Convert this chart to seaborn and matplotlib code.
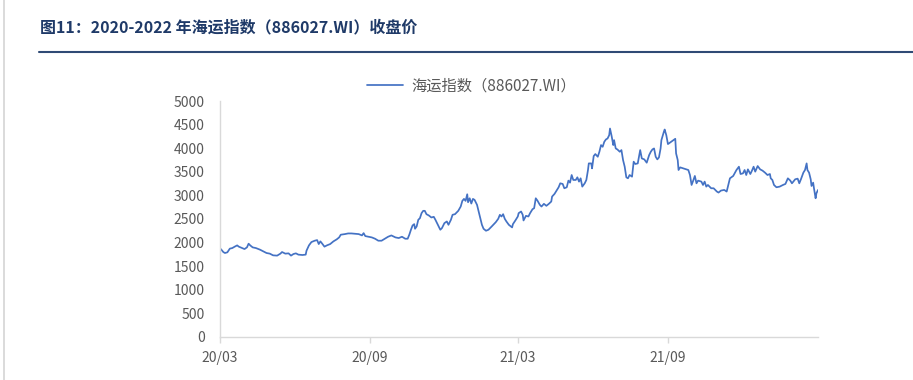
import matplotlib
matplotlib.use("Agg")
import matplotlib.pyplot as plt
from matplotlib.lines import Line2D
import pandas as pd
import seaborn as sns

# dias corridos desde 2020-03-01 e fechamento do índice
days = [
    1, 4, 6, 9, 12, 15, 18, 21, 23, 27, 30, 33, 35, 37, 40, 44, 49, 53, 57, 61,
    65, 70, 74, 76, 80, 84, 87, 90, 93, 96, 101, 105, 106, 109, 112, 116, 119, 121, 123, 125,
    128, 131, 135, 139, 143, 146, 148, 153, 157, 161, 165, 170, 174, 176, 178, 182, 186,
    190, 194, 198, 202, 206, 210, 215, 219, 223, 227, 230, 232, 234, 236, 238, 239, 241, 243, 245, 247,
    249, 251, 253, 256, 259, 262, 264, 267, 270, 272, 275, 278, 280, 283, 285, 288, 292, 295, 297, 299,
    301, 303, 304, 306, 308, 310, 312, 315, 317, 319, 321, 323, 326, 329, 333, 338, 341, 343, 345, 347,
    349, 351, 354, 358, 359,
    362, 365, 366, 369, 371, 372, 375, 378, 380, 383, 385, 387, 389, 392, 394, 397, 400, 403, 406, 407,
    410, 413, 415, 417, 420, 422, 425, 427, 429, 431, 433, 436, 438, 440, 442, 444, 447, 449, 451, 452,
    455, 456, 458, 460, 463, 465, 467, 469, 471, 473, 475, 477, 478, 480, 482, 483, 485, 487, 490, 492,
    494, 496, 498, 500, 502, 505, 507, 509, 512, 515, 517, 520, 523, 526, 528, 530, 532, 534, 536, 538,
    540, 541, 544, 545, 547, 549,
    553, 556, 558, 559, 561, 562, 564, 568, 574, 576, 578, 580, 582, 584, 586, 590, 592, 594, 596, 598,
    602, 605, 609, 611, 614, 618, 621, 623, 625, 629, 633, 636, 638, 641, 643, 645, 647, 650, 652, 654,
    656, 659, 662, 665, 668, 671, 674, 675, 677, 679, 682, 686, 690, 693, 696, 699, 701, 705, 708, 710,
    712, 715, 717, 719, 720, 722, 724, 725, 727, 728, 730, 731, 733,
]
close = [
    1863, 1800, 1779, 1794, 1872, 1884, 1914, 1941, 1914, 1884, 1863, 1899, 1977, 1941, 1899, 1884, 1850, 1815, 1779, 1766,
    1730, 1724, 1766, 1800, 1766, 1772, 1724, 1758, 1772, 1745, 1737, 1745, 1829, 1941, 2011, 2040, 2053, 1969, 2026, 1983,
    1914, 1941, 1969, 2026, 2068, 2110, 2167, 2180, 2194, 2194, 2188, 2180, 2152, 2201, 2138, 2124, 2110,
    2082, 2040, 2040, 2082, 2124, 2152, 2110, 2096, 2124, 2082, 2082, 2167, 2272, 2363, 2391, 2293, 2342, 2483, 2517, 2623,
    2673, 2673, 2602, 2574, 2532, 2546, 2483, 2377, 2272, 2307, 2412, 2448, 2377, 2483, 2589, 2602, 2673, 2764, 2884, 2926,
    2884, 3024, 2855, 2939, 2827, 2926, 2905, 2800, 2659, 2517, 2377, 2293, 2251, 2272, 2342, 2433, 2504, 2589, 2553, 2602,
    2504, 2448, 2377, 2321, 2391,
    2469, 2553, 2623, 2659, 2589, 2469, 2567, 2553, 2623, 2707, 2729, 2939, 2891, 2800, 2764, 2821, 2779, 2821, 2870, 2975,
    3032, 3116, 3172, 3256, 3243, 3151, 3172, 3313, 3270, 3432, 3327, 3327, 3383, 3292, 3362, 3186, 3256, 3327, 3538, 3678,
    3678, 3572, 3833, 3876, 3819, 3925, 4066, 4030, 4136, 4185, 4206, 4276, 4417, 4256, 4066, 4171, 3995, 3974, 3925, 3960,
    3749, 3608, 3383, 3362, 3432, 3397, 3714, 3665, 3678, 3960, 3783, 3763, 3693, 3855, 3925, 3974, 3995, 3819, 3763, 3805,
    3995, 4171, 4347, 4396, 4276, 4087,
    4136, 4171, 4199, 3889, 3749, 3538, 3594, 3572, 3538, 3432, 3221, 3313, 3412, 3256, 3313, 3292, 3221, 3292, 3186, 3221,
    3151, 3151, 3081, 3060, 3102, 3116, 3081, 3221, 3362, 3412, 3538, 3608, 3453, 3467, 3538, 3432, 3552, 3453, 3524, 3608,
    3503, 3622, 3552, 3524, 3482, 3432, 3453, 3362, 3327, 3221, 3172, 3186, 3221, 3243, 3362, 3313, 3256, 3341, 3355, 3256,
    3341, 3482, 3538, 3678, 3538, 3482, 3341, 3200, 3270, 3151, 2939, 3045, 3116,
]
tick_dates = ["2020-03-01", "2020-09-01", "2021-03-01", "2021-09-01"]
tick_labels = ["20/03", "20/09", "21/03", "21/09"]
y_ticks = list(range(0, 5001, 500))

title = "图11：2020-2022 年海运指数（886027.WI）收盘价"
series_name = "海运指数（886027.WI）"

start = pd.Timestamp("2020-03-01")
df = pd.DataFrame({"date": start + pd.to_timedelta(days, unit="D"), "close": close})

sns.set_style("white")
plt.rcParams["font.family"] = ["Noto Sans CJK SC", "DejaVu Sans"]

fig = plt.figure(figsize=(9.13, 3.80), dpi=100)
ax = fig.add_axes([0.241, 0.1132, 0.655, 0.621])

sns.lineplot(data=df, x="date", y="close", ax=ax, color="#4472C4", linewidth=1.25, label=series_name)

ax.set_ylim(0, 5000)
ax.set_yticks(y_ticks)
ax.set_xlim(start, df["date"].iloc[-1])
ax.set_xticks(pd.to_datetime(tick_dates))
ax.set_xticklabels(tick_labels)
ax.set_xlabel("")
ax.set_ylabel("")

for s in ["top", "right"]:
    ax.spines[s].set_visible(False)
for s in ["left", "bottom"]:
    ax.spines[s].set_color("#D9D9D9")
    ax.spines[s].set_linewidth(1.0)

ax.tick_params(axis="y", length=0, pad=11, labelsize=10, labelcolor="#595959")
ax.tick_params(axis="x", length=4, width=1, color="#D9D9D9", direction="out", pad=6,
               labelsize=10, labelcolor="#595959", bottom=True)

ax.get_legend().remove()
fig.legend(handles=[Line2D([0], [0], color="#4472C4", lw=1.25)], labels=[series_name],
           loc="center", bbox_to_anchor=(472 / 913, 1 - 86 / 380), frameon=False,
           fontsize=11, labelcolor="#595959", handlelength=2.3, handletextpad=0.6)

# título e linhas de moldura
fig.text(40 / 913, 1 - 27 / 380, title, fontsize=11.5, fontweight="bold", color="#1F3A68",
         ha="left", va="center")
fig.add_artist(Line2D([39 / 913, 1.0], [1 - 52 / 380, 1 - 52 / 380], color="#2F4A75", lw=1.5))
fig.add_artist(Line2D([3.5 / 913, 3.5 / 913], [0, 1], color="#D4D4D4", lw=1.2))

fig.savefig("out.png", dpi=100)
